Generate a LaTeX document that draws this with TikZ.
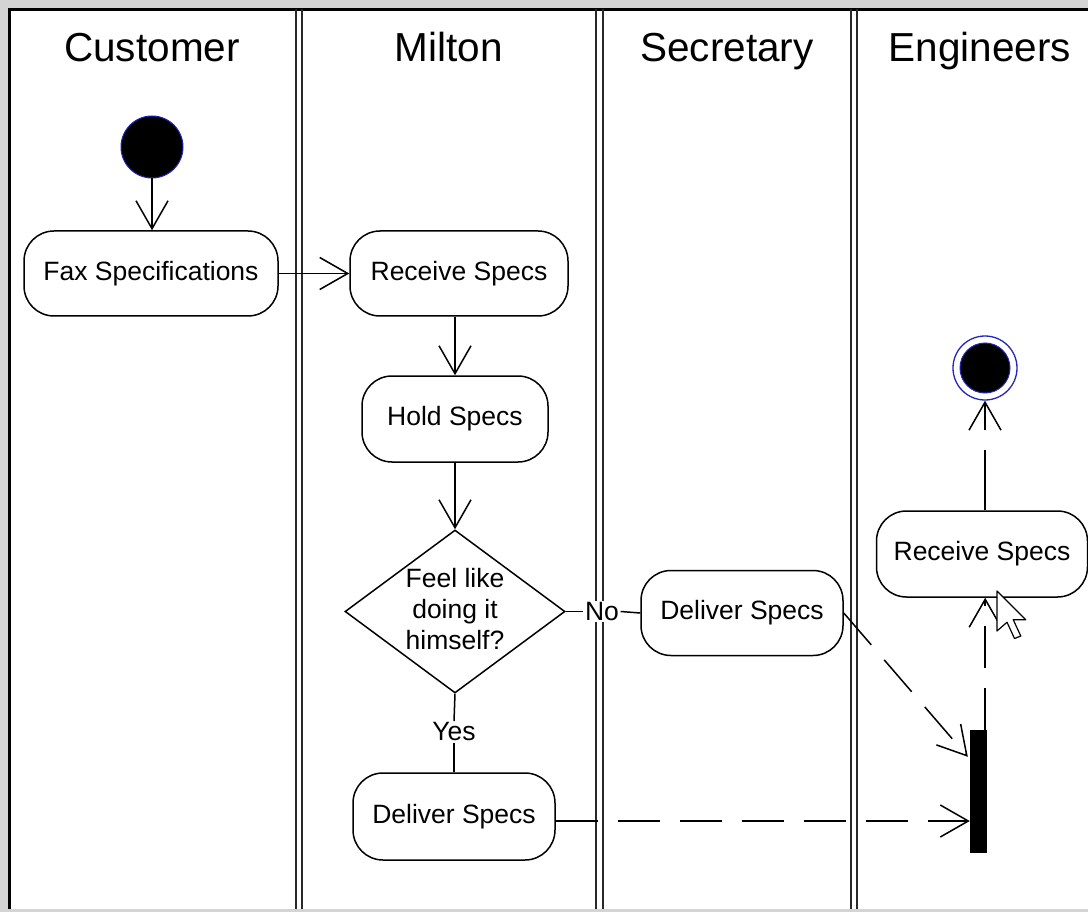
\documentclass[tikz,border=0pt]{standalone}
\usepackage{fontspec}
\setmainfont{Liberation Sans}
\usetikzlibrary{arrows.meta,shapes.geometric,calc}
\definecolor{bggray}{RGB}{212,212,212}
\definecolor{ringblue}{RGB}{36,36,190}
\definecolor{laneink}{RGB}{40,40,40}

\begin{document}
\begin{tikzpicture}[x=1pt,y=-1pt,
  lanetitle/.style={font=\fontsize{40.5}{46}\selectfont, inner sep=0pt, anchor=base},
  laneline/.style={draw=laneink, line width=1.7pt},
  activity/.style={draw, line width=1.5pt, rounded corners=30pt,
    font=\fontsize{26.5}{31}\selectfont, inner sep=0pt},
  decision/.style={draw, diamond, line width=1.5pt, inner sep=0pt,
    minimum width=220pt, minimum height=163pt},
  dectext/.style={align=center, inner sep=0pt, font=\fontsize{26.5}{31}\selectfont},
  guard/.style={fill=white, inner sep=1.5pt, font=\fontsize{26.5}{31}\selectfont},
  flow/.style={line width=1.5pt,
    -{Straight Barb[length=28pt,width=32pt,line width=1.5pt]}},
  flowdash/.style={flow, dash pattern=on 42pt off 20pt},
  plain/.style={line width=1.5pt}]

\useasboundingbox (0,0) rectangle (1088,912);
\fill[bggray] (0,0) rectangle (1088,912);
\fill[white] (9,9) rectangle (1088,909);
\draw[line width=3pt] (8,9.5) -- (1088,9.5);
\draw[line width=3pt] (9.5,8) -- (9.5,909);

% swimlane separators (double lines)
\foreach \lx in {296,302,596,603,851,857}
  \draw[laneline] (\lx,9) -- (\lx,909);

% lane titles
\node[lanetitle] (hcust) at (152,62) {Customer};
\node[lanetitle] (hmilt) at (449,62) {Milton};
\node[lanetitle] (hsecr) at (727,62) {Secretary};
\node[lanetitle] (heng)  at (980,62) {Engineers};

% initial and final nodes
\node[circle, fill=black, draw=ringblue, line width=1pt, minimum size=62pt, inner sep=0pt] (start) at (152,147) {};
\node[circle, draw=ringblue, line width=1.3pt, minimum size=64pt, inner sep=0pt] (end) at (985,368) {};
\node[circle, fill=black, draw=ringblue, line width=1pt, minimum size=50pt, inner sep=0pt] (endcore) at (end) {};

% activities
\node[activity, minimum width=254pt, minimum height=85pt] (fax)   at (151,273.5) {Fax Specifications};
\node[activity, minimum width=218pt, minimum height=85pt] (recv1) at (459,273.5) {Receive Specs};
\node[activity, minimum width=186pt, minimum height=86pt] (hold)  at (455,419) {Hold Specs};
\node[decision] (dec) at (455,611.5) {};
\node[dectext] (decq) at (455,609) {Feel like\\doing it\\himself?};
\node[activity, minimum width=202pt, minimum height=85pt] (dsec)  at (742,613) {Deliver Specs};
\node[activity, minimum width=202pt, minimum height=87pt] (dmil)  at (454,816.5) {Deliver Specs};
\node[activity, minimum width=211pt, minimum height=86pt] (recv2) at (982,554) {Receive Specs};

% join bar
\node[fill=black, minimum width=17pt, minimum height=123pt, inner sep=0pt] (bar) at (978.5,791.5) {};

% guards
\node[guard] (no)  at (602,611.5) {No};
\node[guard] (yes) at (454,732) {Yes};

% control flows
\draw[flow] (start.south) -- (start |- fax.north);
\draw[flow] (fax.east) -- (recv1.west);
\draw[flow] (hold |- recv1.south) -- (hold.north);
\draw[flow] (hold.south) -- (dec.north);
\draw[plain] (dec.east) -- (no.west);
\draw[plain] (no.east) -- (dsec.west);
\draw[plain] (dec.south) -- (yes.north);
\draw[plain] (yes.south) -- (yes |- dmil.north);
\draw[flowdash] (dmil.east |- 0,821) -- (bar.west |- 0,821);
\draw[flowdash] (dsec.east) -- ($(bar.north west)+(-2,27)$);
\draw[flowdash] ([xshift=-2pt]bar.north east) -- ([xshift=-2pt]bar.north east |- recv2.south);
\draw[flow, dash pattern=on 60pt off 20pt] (end |- recv2.north) -- (end.south);

% mouse pointer
\draw[fill=white, line width=1.2pt, line join=round, shift={(997,591)}, scale=2.5]
  (0,0) -- (0,16) -- (4,12.5) -- (7,19) -- (9.5,18) -- (6.5,11.5) -- (11.5,11.5) -- cycle;
\end{tikzpicture}
\end{document}
